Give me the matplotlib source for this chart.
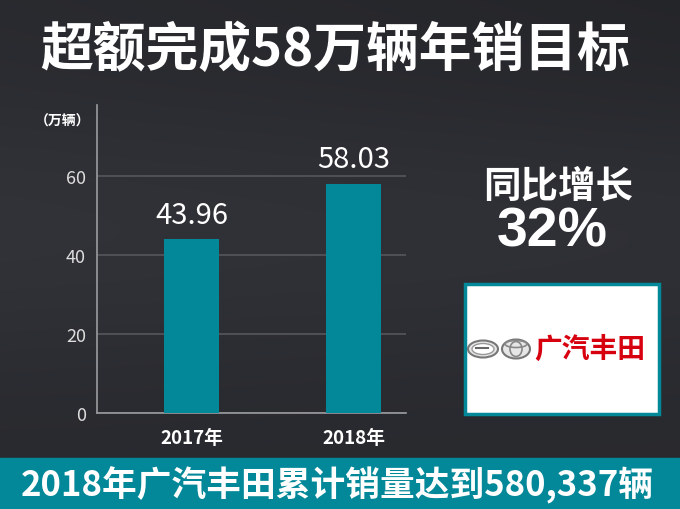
import numpy as np
import matplotlib
matplotlib.use("Agg")
import matplotlib.pyplot as plt
from matplotlib.patches import Rectangle, Ellipse

plt.rcParams['font.family'] = ['Noto Sans CJK SC', 'DejaVu Sans']

categories = ['2017年', '2018年']
values = [43.96, 58.03]
value_labels = ['43.96', '58.03']
yticks = [0, 20, 40, 60]
title = '超额完成58万辆年销目标'
unit = '（万辆）'
growth_title = '同比增长'
growth_value = '32%'
banner = '2018年广汽丰田累计销量达到580,337辆'
logo_text = '广汽丰田'

W, H = 680, 510
fig = plt.figure(figsize=(6.8, 5.1), dpi=100)

# background
bg = fig.add_axes([0, 0, 1, 1])
bg.set_xlim(0, W); bg.set_ylim(H, 0); bg.axis('off')
yy = np.linspace(0, 1, 200)[:, None]
xx = np.linspace(0, 1, 300)[None, :]
base = 0.165 + 0.035 * np.exp(-((yy - 0.45) ** 2) / 0.08) - 0.02 * xx * (1 - yy)
img = np.dstack([base * 0.97, base * 0.99, base * 1.1])
bg.imshow(np.clip(img, 0, 1), extent=[0, W, H, 0], aspect='auto', zorder=0)

# banner
bg.add_patch(Rectangle((0, 459), W, 51, color='#028898', zorder=1))
bg.text(337, 485, banner, color='white', fontsize=25, fontweight='bold',
        ha='center', va='center', zorder=2)

# title
bg.text(335, 50, title, color='white', fontsize=38, fontweight='black',
        ha='center', va='center', zorder=2)

# growth
bg.text(558, 186, growth_title, color='white', fontsize=27, fontweight='black',
        ha='center', va='center', zorder=2)
bg.text(552, 233, growth_value, color='white', fontsize=40, fontweight='bold',
        ha='center', va='center', family=['Liberation Sans', 'DejaVu Sans'], zorder=2)

# logo box
bg.add_patch(Rectangle((465, 285), 194, 130, facecolor='white', edgecolor='#028898',
                       linewidth=2.5, zorder=2))
bg.add_patch(Ellipse((483, 350), 30, 17, facecolor='#e6e6e6', edgecolor='#777777', lw=1.5, zorder=3))
bg.add_patch(Ellipse((483, 350), 22, 11, facecolor='white', edgecolor='#999999', lw=1, zorder=3))
bg.plot([476, 488], [349, 349], color='#666666', lw=1.5, zorder=4)
bg.add_patch(Ellipse((516, 350), 28, 19, facecolor='#e6e6e6', edgecolor='#777777', lw=1.5, zorder=3))
bg.add_patch(Ellipse((516, 350), 12, 15, facecolor='none', edgecolor='#888888', lw=1.2, zorder=4))
bg.add_patch(Ellipse((516, 345), 22, 7, facecolor='none', edgecolor='#888888', lw=1.2, zorder=4))
bg.text(590, 350, logo_text, color='#d7000f', fontsize=20, fontweight='black',
        ha='center', va='center', zorder=4)

# unit label
bg.text(63, 122, unit, color='white', fontsize=10, fontweight='bold',
        ha='center', va='center', zorder=2)

# chart axes
ax = fig.add_axes([97 / W, 1 - 414 / H, 309 / W, 308 / H])
ax.patch.set_alpha(0)
x = np.arange(len(categories))
ax.bar(x, values, width=0.34, color='#028898', zorder=3)
for xi, v, lab in zip(x, values, value_labels):
    ax.text(xi, v + 2.5, lab, color='white', fontsize=21, ha='center', va='bottom', zorder=4)
ax.set_xlim(-0.583, 1.324)
ax.set_ylim(0, 78)
ax.set_yticks(yticks)
ax.set_yticklabels([str(t) for t in yticks], color='#dddddd', fontsize=13, fontweight='light')
ax.set_xticks(x)
ax.set_xticklabels(categories, color='white', fontsize=13.5, fontweight='bold')
ax.tick_params(axis='both', length=0, pad=8)
ax.tick_params(axis='x', pad=11)
ax.grid(axis='y', color='#55575d', linewidth=1.2, zorder=1)
for s in ['top', 'right']:
    ax.spines[s].set_visible(False)
for s in ['left', 'bottom']:
    ax.spines[s].set_color('#9a9ca0')
    ax.spines[s].set_linewidth(1.2)

fig.savefig('out.png', dpi=100)
